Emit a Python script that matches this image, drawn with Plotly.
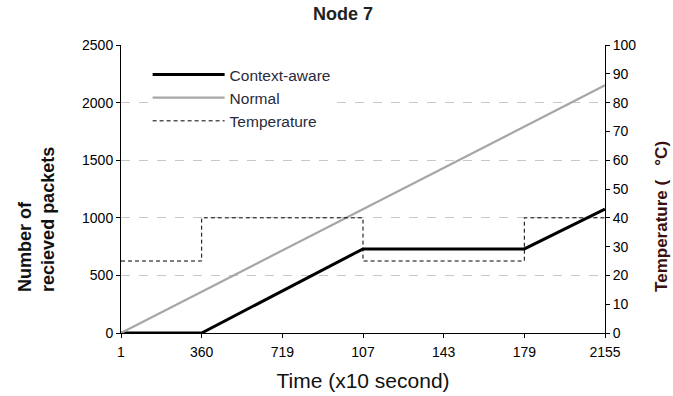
import plotly.graph_objects as go

# Data
time_pts = [1, 360, 1078, 1796, 2155]
context_aware = [0, 0, 730, 730, 1075]
normal_time = [1, 2155]
normal = [0, 2150]
temp_time = [1, 360, 1078, 1796, 2155]
temperature = [25, 40, 25, 40, 40]

x_tickvals = [1, 360, 719, 1078, 1437, 1796, 2155]
x_ticktext = ["1", "360", "719", "107", "143", "179", "2155"]

FONT = "Liberation Sans, Arial, sans-serif"

fig = go.Figure()
fig.add_trace(go.Scatter(x=time_pts, y=context_aware, mode="lines", name="Context-aware",
                         line=dict(color="black", width=3)))
fig.add_trace(go.Scatter(x=normal_time, y=normal, mode="lines", name="Normal",
                         line=dict(color="#a6a6a6", width=2.2)))
fig.add_trace(go.Scatter(x=temp_time, y=temperature, mode="lines", name="Temperature",
                         line=dict(color="black", width=1, dash="4px,3px", shape="hv"),
                         yaxis="y2"))

fig.update_layout(
    width=673, height=396,
    margin=dict(l=121, r=68, t=45, b=63),
    paper_bgcolor="white", plot_bgcolor="white",
    font=dict(family=FONT, color="black", size=14),
    title=dict(text="<b>Node 7</b>", xref="paper", x=0.4587, xanchor="center",
               y=0.966, yanchor="middle", font=dict(size=18, color="#222")),
    showlegend=True,
    legend=dict(x=0.055, y=0.955, xanchor="left", yanchor="top", bgcolor="white",
                font=dict(size=15.5, color="#2a2a3a"), itemwidth=72, tracegroupgap=0,
                borderwidth=0),
    xaxis=dict(range=[1, 2155], tickvals=x_tickvals, ticktext=x_ticktext, automargin=False,
               showgrid=False, zeroline=False, showline=True, linecolor="black", linewidth=1,
               ticks="outside", ticklen=4, tickcolor="black", ticklabelstandoff=2,
               tickfont=dict(size=14, color="black"),
               title=dict(text="Time (x10 second)", font=dict(size=21, color="#111"), standoff=14)),
    yaxis=dict(range=[0, 2500], dtick=500, showgrid=True, gridcolor="#c8c8c8", griddash="dash",
               gridwidth=1, zeroline=False, showline=True, linecolor="black", linewidth=1,
               ticks="outside", ticklen=4, tickcolor="black", automargin=False,
               tickfont=dict(size=14, color="black")),
    yaxis2=dict(range=[0, 100], dtick=10, overlaying="y", side="right", showgrid=False,
                zeroline=False, showline=True, linecolor="black", linewidth=1, automargin=False,
                ticks="outside", ticklen=4, tickcolor="black",
                tickfont=dict(size=14, color="black")),
    annotations=[
        dict(text="<b>Number of<br>recieved packets</b>", xref="paper", yref="paper",
             x=-0.1736, y=0.396, xanchor="center", yanchor="middle", textangle=-90,
             align="left", showarrow=False, font=dict(size=18, color="#111")),
        dict(text="<b>Temperature (   \u00b0C)</b>", xref="paper", yref="paper",
             x=1.1178, y=0.403, xanchor="center", yanchor="middle", textangle=-90,
             showarrow=False, font=dict(size=17, color="#3a1010")),
    ],
)

fig.write_html("out.html")
